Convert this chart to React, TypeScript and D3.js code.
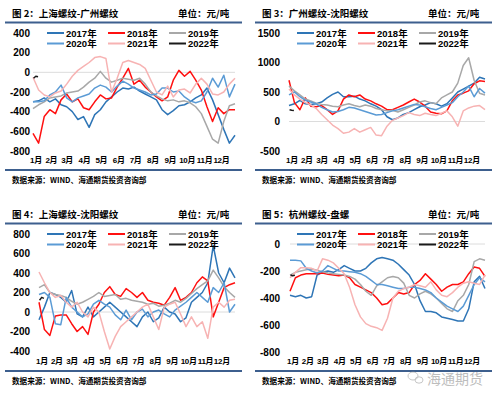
import * as d3 from 'd3';
import { useEffect, useRef } from 'react';

// series values, one value every ~10 days from 1 Jan
const years = ['2017年', '2018年', '2019年', '2020年', '2021年', '2022年'];
const colors = ['#2e75b6', '#ff1010', '#a8a8a8', '#5b9bd5', '#f7b3b3', '#1a1a1a'];
const months = ['1月', '2月', '3月', '4月', '5月', '6月', '7月', '8月', '9月', '10月', '11月', '12月'];
const monthStartDays = [0, 31, 59, 90, 120, 151, 181, 212, 243, 273, 304, 334];
const stepDays = 10;
const days2022 = [1, 5, 9];

// 图2 上海螺纹-广州螺纹
const shGz2017 = [-300, -290, -260, -300, -270, -330, -350, -400, -480, -450, -560, -430, -380, -300, -250, -200, -160, -170, -150, -190, -220, -250, -280, -380, -430, -390, -340, -330, -300, -260, -230, -160, -280, -430, -580, -720, -640];
const shGz2018 = [-620, -720, -450, -380, -420, -280, -220, -300, -270, -360, -380, -300, -230, -270, -260, -150, -60, 40, -120, -80, -150, -200, -250, -290, -250, -80, 20, -40, 10, -80, -180, -350, -500, -360, -420, -380, -380];
const shGz2019 = [-370, -330, -300, -260, -250, -240, -210, -200, -190, -150, -100, -60, 10, -60, -100, -80, -60, -70, -80, -60, -120, -200, -240, -270, -290, -280, -300, -290, -310, -350, -420, -550, -680, -720, -500, -340, -320];
const shGz2020 = [-300, -300, -290, -230, -200, -130, -260, -300, -260, -240, -220, -160, -130, -150, -200, -140, -90, -120, -160, -180, -200, -230, -220, -160, -160, -200, -190, -250, -290, -310, -290, -200, -60, -150, -30, -250, -120];
const shGz2021 = [-50, -180, -230, -250, -210, -190, -120, -40, 20, 60, 100, 150, 160, 140, -200, -60, 100, 120, 100, 80, 40, -80, -200, -230, -140, -250, -180, -170, -210, -120, -60, -120, -220, -230, -200, -120, -60];
const shGz2022 = [-60, -40, -45];

// 图3 广州螺纹-沈阳螺纹
const gzSy2017 = [270, 300, 360, 300, 290, 300, 330, 400, 460, 500, 420, 420, 430, 380, 350, 300, 260, 200, 80, 30, 60, 120, 150, 200, 250, 280, 320, 300, 260, 300, 400, 500, 550, 600, 650, 750, 720];
const gzSy2018 = [700, 320, 200, 400, 260, 250, 270, 200, 120, 180, 380, 450, 420, 450, 380, 350, 300, 260, 200, 200, 240, 280, 330, 380, 330, 260, 160, 140, 130, 180, 350, 450, 480, 520, 640, 690, 680];
const gzSy2019 = [600, 520, 450, 380, 350, 310, 290, 280, 260, 250, 280, 300, 270, 250, 280, 260, 220, 200, 180, 190, 160, 200, 240, 280, 330, 350, 320, 300, 400, 450, 500, 650, 950, 1080, 700, 480, 450];
const gzSy2020 = [450, 500, 420, 360, 330, 300, 240, 200, 160, 170, 200, 240, 230, 200, 170, 140, 110, 120, 150, 180, 200, 230, 260, 290, 280, 250, 220, 200, 240, 280, 320, 420, 500, 600, 420, 560, 480];
const gzSy2021 = [550, 450, 380, 320, 280, 220, 120, 30, -60, -120, -200, -180, -120, -180, -140, -100, -230, -240, -80, 20, 60, 100, 150, 120, 100, 140, 120, 100, 140, 180, 80, -80, 180, 230, 260, 270, 200];
const gzSy2022 = [200, 190, 185];

// 图4 上海螺纹-沈阳螺纹
const shSy2017 = [-80, 50, 200, 180, 150, 100, 220, -20, -50, 50, -50, 0, 50, 100, 50, 0, -50, -100, -150, -50, 0, -100, -60, 50, 0, -20, -100, -60, 100, 150, 200, 300, 680, 400, 300, 450, 350];
const shSy2018 = [100, -180, -240, -40, -30, -30, -120, -200, -150, -230, 0, 80, 200, 260, 180, 160, 240, 200, 150, 200, 120, 100, 90, 70, 150, 250, 120, 150, 200, 300, 360, 320, -50, 100, 250, 280, 300];
const shSy2019 = [250, 280, 200, 180, 170, 150, 110, 80, 100, 130, 160, 200, 160, 170, 180, 130, 140, 120, 110, 100, 80, 90, 60, 70, 90, 120, 100, 140, 190, 240, 280, 320, 430, 350, 260, 200, 150];
const shSy2020 = [180, 200, 150, -120, -130, 150, 50, 0, -50, -20, 80, 120, 80, 50, -30, -80, 20, -80, 0, 30, -50, 0, 20, -20, -50, 20, 60, 100, 150, 200, 150, 100, 250, 200, 300, 0, 80];
const shSy2021 = [410, 300, 200, 150, 170, 100, 50, 100, 0, -50, 50, 0, -200, -380, -250, -150, -100, -50, 0, 50, 80, -50, -180, 50, 80, 100, -20, -150, -50, -150, -100, -270, 50, 100, 50, 120, 130];
const shSy2022 = [120, 150, 140];

// 图5 杭州螺纹-盘螺
const hz2017 = [-380, -390, -380, -400, -390, -230, -210, -200, -210, -190, -160, -180, -200, -200, -180, -140, -110, -100, -110, -120, -150, -190, -230, -300, -420, -500, -500, -510, -540, -550, -560, -570, -570, -480, -280, -240, -330];
const hz2018 = [-350, -250, -230, -220, -220, -220, -215, -225, -230, -235, -230, -250, -300, -320, -340, -360, -400, -450, -440, -400, -360, -370, -360, -300, -270, -220, -260, -300, -350, -320, -300, -300, -280, -220, -170, -180, -240];
const hz2019 = [-230, -210, -200, -190, -185, -195, -205, -215, -220, -225, -230, -240, -260, -300, -350, -380, -310, -280, -250, -240, -250, -290, -380, -400, -370, -350, -370, -400, -440, -480, -500, -420, -380, -300, -130, -110, -120];
const hz2020 = [-120, -120, -125, -180, -200, -215, -200, -160, -180, -200, -200, -205, -210, -220, -240, -270, -300, -300, -310, -320, -330, -330, -320, -320, -330, -340, -360, -400, -430, -460, -480, -500, -460, -380, -300, -250, -280];
const hz2021 = [-250, -210, -175, -175, -180, -200, -110, -120, -140, -180, -220, -320, -450, -540, -590, -610, -620, -640, -550, -400, -350, -330, -320, -300, -310, -320, -280, -340, -380, -390, -360, -320, -290, -280, -290, -300, -230];
const hz2022 = [-230, -235, -232];

const panels = [
  { ox: 0, oy: 0, title: '图 2：上海螺纹-广州螺纹', domain: [-800, 400], ticks: [400, 200, 0, -200, -400, -600, -800], top: 33, bottom: 151, left: 33,
    series: [shGz2017, shGz2018, shGz2019, shGz2020, shGz2021, shGz2022] },
  { ox: 250, oy: 0, title: '图 3：广州螺纹-沈阳螺纹', domain: [-500, 1500], ticks: [1500, 1000, 500, 0, -500], top: 33, bottom: 151, left: 39,
    series: [gzSy2017, gzSy2018, gzSy2019, gzSy2020, gzSy2021, gzSy2022] },
  { ox: 0, oy: 201, title: '图 4：上海螺纹-沈阳螺纹', domain: [-400, 800], ticks: [800, 600, 400, 200, 0, -200, -400], top: 33, bottom: 150, left: 39,
    series: [shSy2017, shSy2018, shSy2019, shSy2020, shSy2021, shSy2022] },
  { ox: 250, oy: 201, title: '图 5：杭州螺纹-盘螺', domain: [-800, 0], ticks: [0, -200, -400, -600, -800], top: 43, bottom: 151, left: 40,
    series: [hz2017, hz2018, hz2019, hz2020, hz2021, hz2022] },
];

const latin = "'Liberation Sans', Arial, 'Noto Sans CJK SC', sans-serif";
const cjk = "'Noto Sans CJK SC', sans-serif";
const ruleColor = '#3d5f8e';

export default function App() {
  const ref = useRef<SVGSVGElement>(null);

  useEffect(() => {
    const svg = d3.select(ref.current);
    svg.selectAll('*').remove();
    svg.append('rect').attr('width', 500).attr('height', 398).attr('fill', '#fff');

    panels.forEach((p) => {
      const g = svg.append('g').attr('transform', `translate(${p.ox},${p.oy})`);

      g.append('text').attr('x', 12).attr('y', 13).attr('dominant-baseline', 'central')
        .attr('font-family', cjk).attr('font-weight', 700).attr('font-size', 9.5).text(p.title);
      g.append('text').attr('x', 178).attr('y', 13).attr('dominant-baseline', 'central')
        .attr('font-family', cjk).attr('font-weight', 700).attr('font-size', 9.5).text('单位：元/吨');
      g.append('line').attr('x1', 5).attr('x2', 242).attr('y1', 22.5).attr('y2', 22.5)
        .attr('stroke', ruleColor).attr('stroke-width', 2.2);
      g.append('line').attr('x1', 5).attr('x2', 242).attr('y1', 170).attr('y2', 170)
        .attr('stroke', ruleColor).attr('stroke-width', 2.2);
      g.append('text').attr('x', 12).attr('y', 179).attr('dominant-baseline', 'central')
        .attr('font-family', cjk).attr('font-weight', 700).attr('font-size', 7.6).text('数据来源：WIND、海通期货投资咨询部');

      var x = d3.scaleLinear().domain([0, 360]).range([p.left, 235]);
      var y = d3.scaleLinear().domain(p.domain).range([p.bottom, p.top]);

      g.append('line').attr('x1', p.left).attr('x2', 235).attr('y1', y(0)).attr('y2', y(0))
        .attr('stroke', '#dcdcdc').attr('stroke-width', 1);

      g.selectAll('.ytick').data(p.ticks).enter().append('text')
        .attr('x', 30).attr('y', (d) => y(d)).attr('text-anchor', 'end').attr('dominant-baseline', 'central')
        .attr('font-family', latin).attr('font-weight', 700).attr('font-size', 10).text((d) => d);

      g.selectAll('.xtick').data(months).enter().append('text')
        .attr('x', (d, i) => x(monthStartDays[i]) + (i === 0 ? 3 : 1))
        .attr('y', 160).attr('text-anchor', 'middle').attr('dominant-baseline', 'central')
        .attr('font-family', latin).attr('font-weight', 700).attr('font-size', 8).attr('letter-spacing', -0.3)
        .text((d) => d);

      p.series.forEach((vals, si) => {
        const dayOf = (i: number) => (si === 5 ? days2022[i] : i * stepDays);
        const line = d3.line<number>().x((d, i) => x(dayOf(i))).y((d) => y(d));
        g.append('path').datum(vals).attr('d', line).attr('fill', 'none')
          .attr('stroke', colors[si]).attr('stroke-width', 1.5).attr('stroke-linejoin', 'round');
      });

      const colX = [47, 108, 169];
      years.forEach((yr, i) => {
        const lx = colX[i % 3];
        const ly = i < 3 ? 33 : 43.5;
        g.append('line').attr('x1', lx).attr('x2', lx + 17).attr('y1', ly).attr('y2', ly)
          .attr('stroke', colors[i]).attr('stroke-width', 2);
        g.append('text').attr('x', lx + 19).attr('y', ly).attr('dominant-baseline', 'central')
          .attr('font-family', latin).attr('font-weight', 700).attr('font-size', 9.5).text(yr);
      });
    });

    // watermark
    const wm = svg.append('g').attr('opacity', 0.55);
    wm.append('ellipse').attr('cx', 413).attr('cy', 376).attr('rx', 5).attr('ry', 4)
      .attr('fill', 'none').attr('stroke', '#999').attr('stroke-width', 1);
    wm.append('ellipse').attr('cx', 419).attr('cy', 380).attr('rx', 4).attr('ry', 3.2)
      .attr('fill', 'none').attr('stroke', '#999').attr('stroke-width', 1);
    wm.append('text').attr('x', 427).attr('y', 378).attr('dominant-baseline', 'central')
      .attr('font-family', cjk).attr('font-size', 14).attr('fill', '#888').text('海通期货');
  }, []);

  return (
    <svg ref={ref} width={500} height={398} style={{ position: 'absolute', left: 0, top: 0, display: 'block' }} />
  );
}
